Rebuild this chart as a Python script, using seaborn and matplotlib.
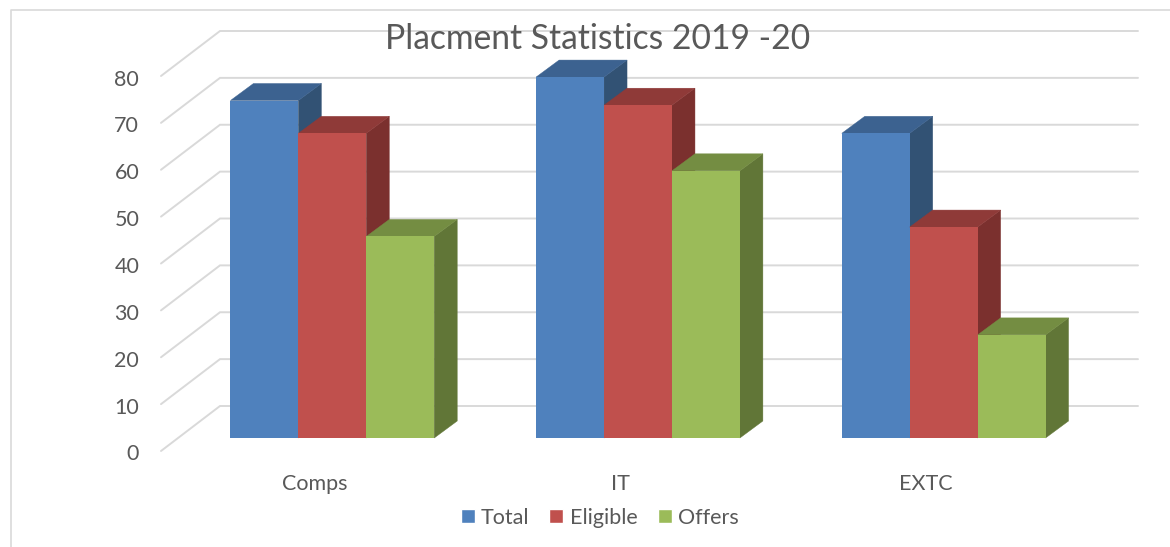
import matplotlib
matplotlib.use("Agg")
import matplotlib.pyplot as plt
import pandas as pd
import seaborn as sns
from matplotlib.lines import Line2D
from matplotlib.patches import Polygon
from matplotlib.transforms import Affine2D

categories = ["Comps", "IT", "EXTC"]
series_names = ["Total", "Eligible", "Offers"]
total = [72, 77, 65]
eligible = [65, 71, 45]
offers = [43, 57, 22]
y_ticks = [0, 10, 20, 30, 40, 50, 60, 70, 80]

front_colors = ["#4F81BD", "#C0504D", "#9BBB59"]
top_colors = ["#3C6290", "#8F3A38", "#748D42"]
side_colors = ["#325274", "#7B302E", "#617637"]
grid_color = "#D9D9D9"
text_color = "#595959"

W, H = 1170, 547
AX_LEFT, AX_BOTTOM, AX_W, AX_H = 179.5, 438, 917, 375

df = pd.DataFrame({
    "category": categories * 3,
    "series": [s for s in series_names for _ in categories],
    "value": total + eligible + offers,
})

sns.set_theme(style="white")
plt.rcParams["font.family"] = ["Lato", "DejaVu Sans"]

fig = plt.figure(figsize=(W / 100, H / 100), dpi=100, facecolor="white")
ax = fig.add_axes([AX_LEFT / W, (H - AX_BOTTOM) / H, AX_W / W, AX_H / H])

sns.barplot(data=df, x="category", y="value", hue="series", hue_order=series_names,
            palette=front_colors, saturation=1, width=2 / 3, gap=0, ax=ax)
ax.set_xlim(-0.5, 2.5)
ax.set_ylim(0, 80)

# pixels per data unit, for the fake 3d depth
px_x = AX_W / 3
px_y = AX_H / 80


def to_x(px):
    return -0.5 + (px - AX_LEFT) / px_x


# back wall + side wall gridlines
for v in y_ticks:
    ax.plot([to_x(161), to_x(220), to_x(1138)],
            [v - 13 / px_y, v + 32 / px_y, v + 32 / px_y],
            color=grid_color, lw=1.4, clip_on=False, zorder=1,
            solid_joinstyle="miter")

# bar depth on top of the seaborn bars
depth_x = 23 / px_x
depth_y = 17 / px_y
for i, cont in enumerate(ax.containers):
    z = 3 + i
    for bar in cont:
        x0, w, h = bar.get_x(), bar.get_width(), bar.get_height()
        x1 = x0 + w
        bar.set_zorder(z + 0.2)
        bar.set_linewidth(0)
        ax.add_patch(Polygon([(x1, 0), (x1 + depth_x, depth_y), (x1 + depth_x, h + depth_y), (x1, h)],
                             closed=True, fc=side_colors[i], ec=side_colors[i], lw=0.3,
                             clip_on=False, zorder=z))
        ax.add_patch(Polygon([(x0, h), (x0 + depth_x, h + depth_y), (x1 + depth_x, h + depth_y), (x1, h)],
                             closed=True, fc=top_colors[i], ec=top_colors[i], lw=0.3,
                             clip_on=False, zorder=z + 0.1))

sns.despine(ax=ax, left=True, bottom=True)
ax.set_xlabel("")
ax.set_ylabel("")
ax.patch.set_alpha(0)
ax.set_yticks(y_ticks)
ax.tick_params(axis="both", length=0, colors=text_color, labelsize=15.5)
ax.tick_params(axis="y", pad=29)
ax.tick_params(axis="x", pad=26)

# labels sit on the front of the floor, not on the bars
for lab in ax.get_yticklabels():
    lab.set_transform(lab.get_transform() + Affine2D().translate(0, -14.5))
for lab in ax.get_xticklabels():
    lab.set_transform(lab.get_transform() + Affine2D().translate(-17.5, 0))

sns.move_legend(ax, "center", bbox_to_anchor=(599.5 / W, (H - 517.5) / H),
                bbox_transform=fig.transFigure, ncol=3, frameon=False, title=None,
                fontsize=15.5, handlelength=0.65, handleheight=0.65,
                handletextpad=0.28, columnspacing=0.95, labelcolor=text_color)

fig.text(597.5 / W, (H - 39) / H, "Placment Statistics 2019 -20", ha="center", va="center",
         fontsize=24.2, color=text_color, zorder=10)

# chart border (left and top only show in the crop)
fig.add_artist(Line2D([11 / W, 11 / W, 1], [0, (H - 10) / H, (H - 10) / H],
                      color=grid_color, lw=1.2))

fig.savefig("out.png", dpi=100)
